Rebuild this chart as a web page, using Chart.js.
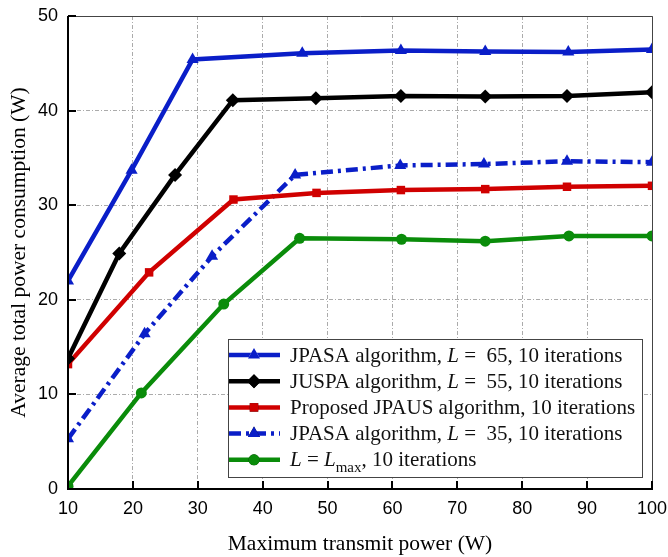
<!DOCTYPE html>
<html>
<head>
<meta charset="utf-8">
<script src="https://cdn.jsdelivr.net/npm/chart.js@4/dist/chart.umd.min.js"></script>
<style>
  html, body { margin: 0; padding: 0; background: #fff; }
  #wrap { width: 668px; height: 557px; }
</style>
</head>
<body>
<div id="wrap"><canvas id="power-chart"></canvas></div>
<script>
// Average total power vs. maximum transmit power
const jpasa65X = [10, 19.8, 29.2, 46.1, 61.3, 74.3, 87.1, 100];
const jpasa65Y = [22.0, 33.7, 45.4, 46.05, 46.35, 46.25, 46.2, 46.45];

const juspa55X = [10, 17.9, 26.5, 35.4, 48.2, 61.3, 74.3, 86.9, 100];
const juspa55Y = [13.8, 24.9, 33.2, 41.1, 41.3, 41.55, 41.5, 41.55, 41.95];

const jpausX = [10, 22.5, 35.5, 48.3, 61.3, 74.3, 86.9, 100];
const jpausY = [13.2, 22.9, 30.6, 31.3, 31.6, 31.7, 31.95, 32.05];

const jpasa35X = [10, 21.8, 32.2, 45.0, 61.2, 74.1, 86.9, 100];
const jpasa35Y = [5.3, 16.4, 24.6, 33.2, 34.2, 34.35, 34.65, 34.55];

const lmaxX = [10, 21.3, 34.0, 45.7, 61.4, 74.3, 87.2, 100];
const lmaxY = [0.3, 10.15, 19.55, 26.5, 26.4, 26.2, 26.75, 26.75];

const xTicks = [10, 20, 30, 40, 50, 60, 70, 80, 90, 100];
const yTicks = [0, 10, 20, 30, 40, 50];

// legend text pieces: [text, style] where style is '' | 'i' (italic) | 'sub'
const legendParts = [
  [['JPASA algorithm, ', ''], ['L', 'i'], [' =  65, 10 iterations', '']],
  [['JUSPA algorithm, ', ''], ['L', 'i'], [' =  55, 10 iterations', '']],
  [['Proposed JPAUS algorithm, 10 iterations', '']],
  [['JPASA algorithm, ', ''], ['L', 'i'], [' =  35, 10 iterations', '']],
  [['L', 'i'], [' = ', ''], ['L', 'i'], ['max', 'sub'], [', 10 iterations', '']]
];

const BLUE = '#0a1ec8';
const BLACK = '#000000';
const RED = '#d00000';
const GREEN = '#0a8c0a';
const DASH_DOT = [12, 5, 3, 5];

function pts(xs, ys) {
  return xs.map((x, i) => ({ x: x, y: ys[i] }));
}

function series(label, xs, ys, color, style, radius, dash) {
  return {
    label: label,
    data: pts(xs, ys),
    borderColor: color,
    backgroundColor: color,
    borderWidth: 4.5,
    borderDash: dash || [],
    pointStyle: style,
    pointRadius: radius,
    pointBorderWidth: 0,
    pointBackgroundColor: color,
    tension: 0,
    clip: 0
  };
}

const serif = '"Liberation Serif", "Times New Roman", serif';
const sans = '"Liberation Sans", Arial, sans-serif';

// frame, inward tick marks and the boxed legend
const framePlugin = {
  id: 'frame',
  afterDraw(chart) {
    const ctx = chart.ctx;
    const a = chart.chartArea;
    const xs = chart.scales.x;
    const ys = chart.scales.y;

    ctx.save();
    // thin top/right border
    ctx.strokeStyle = '#444';
    ctx.lineWidth = 1;
    ctx.beginPath();
    ctx.moveTo(a.left, a.top + 0.5);
    ctx.lineTo(a.right + 0.5, a.top + 0.5);
    ctx.lineTo(a.right + 0.5, a.bottom);
    ctx.stroke();

    // heavy left/bottom axes
    ctx.strokeStyle = '#000';
    ctx.lineWidth = 2;
    ctx.beginPath();
    ctx.moveTo(a.left, a.top);
    ctx.lineTo(a.left, a.bottom);
    ctx.lineTo(a.right + 1, a.bottom);
    ctx.stroke();

    // ticks pointing into the plot
    ctx.beginPath();
    xTicks.forEach(v => {
      const px = Math.round(xs.getPixelForValue(v));
      ctx.moveTo(px, a.bottom);
      ctx.lineTo(px, a.bottom - 8);
    });
    yTicks.forEach(v => {
      const py = Math.round(ys.getPixelForValue(v));
      ctx.moveTo(a.left, py);
      ctx.lineTo(a.left + 8, py);
    });
    ctx.stroke();

    // legend box
    const bx = 228, by = 339, bw = 414, bh = 138;
    ctx.fillStyle = '#fff';
    ctx.fillRect(bx, by, bw, bh);
    ctx.strokeStyle = '#444';
    ctx.lineWidth = 1;
    ctx.strokeRect(bx + 0.5, by + 0.5, bw, bh);

    const rowH = 26.2;
    chart.data.datasets.forEach((ds, i) => {
      const cy = by + 16 + i * rowH;
      ctx.strokeStyle = ds.borderColor;
      ctx.lineWidth = 4.5;
      ctx.setLineDash(ds.borderDash);
      ctx.beginPath();
      ctx.moveTo(bx + 1, cy);
      ctx.lineTo(bx + 52, cy);
      ctx.stroke();
      ctx.setLineDash([]);
      Chart.helpers.drawPoint(ctx, {
        pointStyle: ds.pointStyle,
        radius: ds.pointRadius,
        borderWidth: 0
      }, bx + 26, cy);
      ctx.fillStyle = ds.borderColor;
      ctx.fill();

      // label text
      let tx = bx + 62;
      ctx.fillStyle = '#111';
      ctx.textBaseline = 'middle';
      legendParts[i].forEach(([txt, st]) => {
        let yOff = 1;
        if (st === 'i') ctx.font = 'italic 21px ' + serif;
        else if (st === 'sub') { ctx.font = '15px ' + serif; yOff = 8; }
        else ctx.font = '21px ' + serif;
        ctx.fillText(txt, tx, cy + yOff);
        tx += ctx.measureText(txt).width;
      });
    });
    ctx.restore();
  }
};

const gridOpts = {
  color: '#ababab',
  lineWidth: 1,
  drawTicks: false
};

const ctx = document.getElementById('power-chart').getContext('2d');
new Chart(ctx, {
  type: 'line',
  data: {
    datasets: [
      series('JPASA algorithm, L = 65, 10 iterations', jpasa65X, jpasa65Y, BLUE, 'triangle', 7),
      series('JUSPA algorithm, L = 55, 10 iterations', juspa55X, juspa55Y, BLACK, 'rectRot', 7),
      series('Proposed JPAUS algorithm, 10 iterations', jpausX, jpausY, RED, 'rect', 6),
      series('JPASA algorithm, L = 35, 10 iterations', jpasa35X, jpasa35Y, BLUE, 'triangle', 7, DASH_DOT),
      series('L = Lmax, 10 iterations', lmaxX, lmaxY, GREEN, 'circle', 5.5)
    ]
  },
  options: {
    responsive: true,
    maintainAspectRatio: false,
    animation: false,
    layout: {
      padding: { top: 16, right: 16, left: 0, bottom: 0 }
    },
    scales: {
      x: {
        type: 'linear',
        min: 10,
        max: 100,
        afterFit: s => {
          s.height = 68;
          s.paddingLeft = 0;
          s.paddingRight = 0;
        },
        afterBuildTicks: s => { s.ticks = xTicks.map(v => ({ value: v })); },
        grid: gridOpts,
        border: { display: false, dash: [4, 2, 1, 2] },
        ticks: {
          color: '#000',
          padding: 9,
          font: { family: sans, size: 18 }
        },
        title: {
          display: true,
          text: 'Maximum transmit power (W)',
          color: '#000',
          padding: { top: 0, bottom: 0 },
          font: { family: serif, size: 21.5 }
        }
      },
      y: {
        min: 0,
        max: 50,
        afterFit: s => {
          s.width = 68;
          s.paddingTop = 0;
          s.paddingBottom = 0;
        },
        afterBuildTicks: s => { s.ticks = yTicks.map(v => ({ value: v })); },
        grid: gridOpts,
        border: { display: false, dash: [4, 2, 1, 2] },
        ticks: {
          color: '#000',
          padding: 10,
          font: { family: sans, size: 18 }
        },
        title: {
          display: true,
          text: 'Average total power consumption (W)',
          color: '#000',
          padding: { top: 6, bottom: 0 },
          font: { family: serif, size: 21.5 }
        }
      }
    },
    plugins: {
      legend: { display: false },
      tooltip: { enabled: false }
    }
  },
  plugins: [framePlugin]
});
</script>
</body>
</html>
